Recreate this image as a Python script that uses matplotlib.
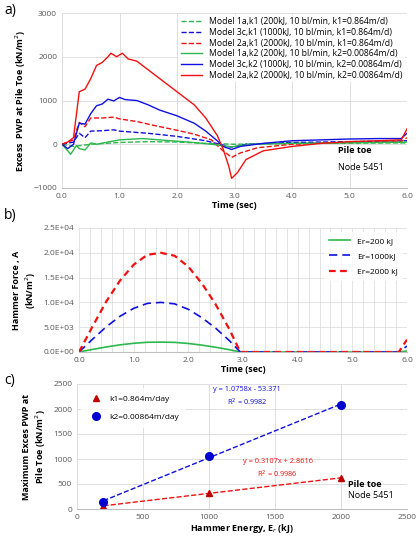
import numpy as np
import matplotlib.pyplot as plt

plt.rcParams['font.family'] = ['Open Sans', 'DejaVu Sans']
plt.rcParams['font.size'] = 6.5

# panel a: excess PWP at pile toe
t_r2 = [0, 0.1, 0.2, 0.3, 0.4, 0.5, 0.6, 0.7, 0.8, 0.85, 0.95, 1.05, 1.15, 1.3, 1.5, 1.7, 2.0, 2.3, 2.5, 2.7, 2.8, 2.9, 2.95, 3.05, 3.2, 3.5, 4.0, 4.5, 5.0, 5.5, 5.9, 6.0]
p_r2 = [0, 50, 150, 1200, 1260, 1500, 1800, 1870, 2000, 2080, 2000, 2080, 1950, 1900, 1700, 1500, 1200, 900, 600, 200, -100, -500, -780, -650, -350, -150, -50, 20, 60, 80, 100, 350]
t_b2 = [0, 0.1, 0.2, 0.3, 0.4, 0.5, 0.6, 0.7, 0.8, 0.9, 1.0, 1.1, 1.3, 1.5, 1.7, 2.0, 2.3, 2.5, 2.7, 2.8, 2.95, 3.1, 3.5, 4.0, 4.5, 5.0, 5.5, 5.9, 6.0]
p_b2 = [0, -100, 0, 480, 460, 700, 880, 920, 1030, 990, 1070, 1020, 1000, 900, 780, 650, 480, 300, 80, -50, -120, -50, 20, 80, 100, 120, 130, 130, 250]
t_r1 = [0, 0.2, 0.3, 0.4, 0.5, 0.7, 0.9, 1.0, 1.3, 1.6, 2.0, 2.3, 2.6, 2.8, 2.95, 3.1, 3.4, 4.0, 5.0, 5.9, 6.0]
p_r1 = [0, 100, 500, 400, 600, 600, 620, 580, 520, 430, 320, 230, 100, -150, -300, -200, -80, 0, 40, 60, 150]
t_b1 = [0, 0.2, 0.3, 0.4, 0.5, 0.7, 0.9, 1.0, 1.5, 2.0, 2.5, 2.8, 2.95, 3.2, 4.0, 5.0, 6.0]
p_b1 = [0, 50, 250, 150, 300, 310, 330, 300, 250, 180, 80, -20, -70, 0, 40, 60, 80]
t_g2 = [0, 0.1, 0.15, 0.25, 0.3, 0.4, 0.5, 0.6, 0.8, 1.0, 1.4, 1.8, 2.2, 2.6, 2.95, 3.3, 4.0, 5.0, 6.0]
p_g2 = [0, -150, -230, -30, -100, -130, 30, 0, 50, 100, 130, 90, 50, 0, -60, 0, 20, 30, 50]
t_g1 = [0, 0.2, 0.5, 1.0, 1.5, 2.0, 2.5, 3.0, 4.0, 6.0]
p_g1 = [0, -50, 0, 40, 60, 50, 20, 0, 20, 30]

# panel b: hammer force
t_f = [0, 0.25, 0.5, 0.75, 1.0, 1.25, 1.5, 1.75, 2.0, 2.25, 2.5, 2.75, 2.95, 5.85, 6.0]
f_200 = [0, 520, 1020, 1440, 1760, 1960, 2000, 1940, 1720, 1380, 960, 460, 0, 0, 200]
f_1000 = [0, 2600, 5100, 7200, 8800, 9800, 10000, 9700, 8600, 6900, 4800, 2300, 0, 0, 1200]
f_2000 = [0, 5200, 10200, 14400, 17600, 19600, 20000, 19400, 17200, 13800, 9600, 4600, 0, 0, 2500]

# panel c: max PWP vs energy
energy = [200, 1000, 2000]
pwp_k1 = [60, 320, 620]
pwp_k2 = [140, 1070, 2080]

fig = plt.figure(figsize=(4.2, 5.41), dpi=100)
W, H = 420, 541
def box(l, t, r, b):
    return [l / W, 1 - b / H, (r - l) / W, (b - t) / H]

green, blue, red = '#2db84d', '#1010e0', '#f01010'
grid = '#d9d9d9'

ax = fig.add_axes(box(62, 13, 407, 188))
ax.plot(t_g1, p_g1, '--', color=green, lw=1, label='Model 1a,k1 (200kJ, 10 bl/min, k1=0.864m/d)')
ax.plot(t_b1, p_b1, '--', color=blue, lw=1, label='Model 3c,k1 (1000kJ, 10 bl/min, k1=0.864m/d)')
ax.plot(t_r1, p_r1, '--', color=red, lw=1, label='Model 2a,k1 (2000kJ, 10 bl/min, k1=0.864m/d)')
ax.plot(t_g2, p_g2, '-', color=green, lw=1, label='Model 1a,k2 (200kJ, 10 bl/min, k2=0.00864m/d)')
ax.plot(t_b2, p_b2, '-', color=blue, lw=1, label='Model 3c,k2 (1000kJ, 10 bl/min, k2=0.00864m/d)')
ax.plot(t_r2, p_r2, '-', color=red, lw=1, label='Model 2a,k2 (2000kJ, 10 bl/min, k2=0.00864m/d)')
ax.set_xlim(0, 6)
ax.set_ylim(-1000, 3000)
ax.set_xticks(np.arange(0, 6.1, 1))
ax.set_xticklabels([f'{v:.1f}' for v in np.arange(0, 6.1, 1)])
ax.set_yticks([-1000, 0, 1000, 2000, 3000])
ax.grid(True, color=grid, lw=0.6)
ax.set_xlabel('Time (sec)', fontweight='bold', labelpad=1)
ax.set_ylabel('Excess  PWP at Pile Toe (kN/m$^2$)', fontweight='bold')
ax.legend(loc='upper right', fontsize=6.2, frameon=True, fancybox=False, edgecolor='none',
          handlelength=2.5, borderpad=0.3, labelspacing=0.2, borderaxespad=0.2)
ax.text(0.8, 0.2, 'Pile toe', transform=ax.transAxes, fontweight='bold', fontsize=6.5)
ax.text(0.8, 0.1, 'Node 5451', transform=ax.transAxes, fontsize=6.5)
fig.text(0.01, 0.975, 'a)', fontsize=10)

ax = fig.add_axes(box(79, 228, 407, 352))
ax.plot(t_f, f_200, '-', color=green, lw=1.2, label='Er=200 kJ')
ax.plot(t_f, f_1000, '--', color=blue, lw=1.2, dashes=(5, 3), label='Er=1000kJ')
ax.plot(t_f, f_2000, '--', color=red, lw=1.6, dashes=(3, 2), label='Er=2000 kJ')
ax.set_xlim(0, 6)
ax.set_ylim(0, 25000)
ax.set_xticks(np.arange(0, 6.1, 1))
ax.set_xticklabels([f'{v:.1f}' for v in np.arange(0, 6.1, 1)])
ax.set_xticks(np.arange(0, 6.01, 0.2), minor=True)
ax.set_yticks(np.arange(0, 25001, 5000))
ax.set_yticklabels([f'{v:.1E}' for v in np.arange(0, 25001, 5000)])
ax.tick_params(which='minor', length=0)
ax.grid(True, which='both', color=grid, lw=0.5)
ax.set_xlabel('Time (sec)', fontweight='bold', labelpad=1)
ax.set_ylabel('Hammer Force , A\n(kN/m$^2$)', fontweight='bold')
ax.legend(loc='upper right', fontsize=6, frameon=True, fancybox=False, edgecolor='none',
          handlelength=2.5, borderpad=0.6, labelspacing=0.9)
fig.text(0.01, 0.595, 'b)', fontsize=10)

ax = fig.add_axes(box(77, 384, 407, 509))
c1 = np.polyfit(energy, pwp_k1, 1)
c2 = np.polyfit(energy, pwp_k2, 1)
xe = np.array([200, 2000])
ax.plot(xe, np.polyval(c2, xe), '--', color=blue, lw=1)
ax.plot(xe, np.polyval(c1, xe), '--', color=red, lw=1)
ax.plot(energy, pwp_k1, '^', color='#c00000', ms=5, label='k1=0.864m/day')
ax.plot(energy, pwp_k2, 'o', color='#0000d0', ms=5.5, label='k2=0.00864m/day')
ax.set_xlim(0, 2500)
ax.set_ylim(0, 2500)
ax.set_xticks(np.arange(0, 2501, 500))
ax.set_yticks(np.arange(0, 2501, 500))
ax.grid(True, color=grid, lw=0.6)
ax.set_xlabel('Hammer Energy, E$_r$ (kJ)', fontweight='bold', labelpad=1)
ax.set_ylabel('Maximum Exces PWP at\nPile Toe (kN/m$^2$)', fontweight='bold')
ax.legend(loc='upper left', fontsize=6, frameon=True, fancybox=False, edgecolor='none',
          borderpad=0.8, labelspacing=1.3, handletextpad=0.6)
ax.text(1290, 2080, 'y = 1.0758x - 53.371\nR$^2$ = 0.9982', color=blue, fontsize=5.3, ha='center', linespacing=1.4)
ax.text(1520, 640, 'y = 0.3107x + 2.8616\nR$^2$ = 0.9986', color=red, fontsize=5.3, ha='center', linespacing=1.4)
ax.text(2050, 440, 'Pile toe', fontweight='bold', fontsize=6.5)
ax.text(2050, 230, 'Node 5451', fontsize=6.5)
fig.text(0.01, 0.29, 'c)', fontsize=10)

for a in fig.axes:
    for s in a.spines.values():
        s.set_visible(False)
    a.spines['bottom'].set_visible(True)
    a.spines['bottom'].set_color('#bfbfbf')
    a.tick_params(length=0, colors='#595959', labelsize=6)

fig.savefig('out.png', dpi=100)
